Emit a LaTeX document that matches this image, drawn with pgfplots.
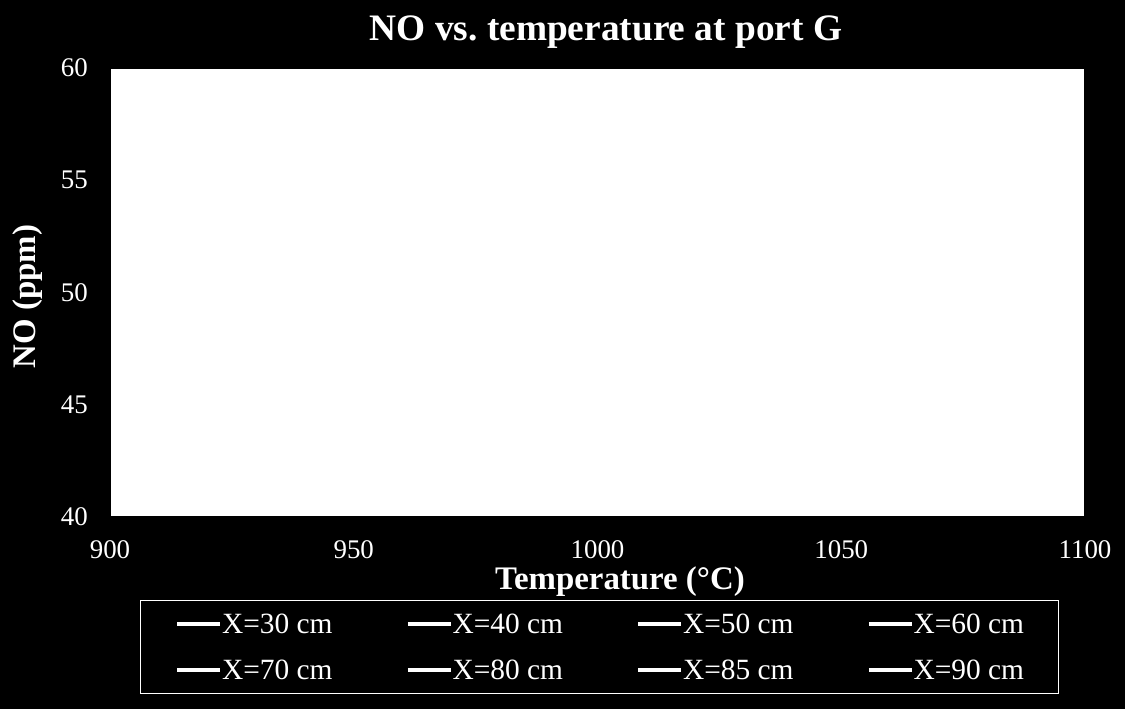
\documentclass[border=0pt]{standalone}
\usepackage{pgfplots}
\pgfplotsset{compat=1.18}
\usepackage{fontspec}
\setmainfont{Liberation Serif}
\usetikzlibrary{backgrounds}
\begin{document}
\begin{tikzpicture}
\begin{axis}[
  at={(0,0)}, anchor=south west,
  scale only axis, width=975bp, height=449bp,
  xmin=900, xmax=1100, ymin=40, ymax=60,
  xtick={900,950,1000,1050,1100},
  ytick={40,45,50,55,60},
  axis background/.style={fill=white},
  axis line style={black, line width=1.5bp},
  major tick length=0pt,
  /pgf/number format/assume math mode=true,
  /pgf/number format/1000 sep={},
  tick label style={font=\fontsize{27}{27}\selectfont, text=white, inner sep=0pt},
  xticklabel style={anchor=center, yshift=-33bp},
  yticklabel style={anchor=east, xshift=-22bp},
  title={NO vs.\ temperature at port G},
  title style={font=\bfseries\fontsize{37.5}{37.5}\selectfont, text=white,
    at={(axis description cs:0.5087,1.067)}, anchor=center, inner sep=0pt},
  xlabel={Temperature (°C)},
  xlabel style={font=\bfseries\fontsize{33}{33}\selectfont, text=white,
    at={(axis description cs:0.523,-0.143)}, anchor=center, inner sep=0pt},
  ylabel={NO (ppm)},
  ylabel style={font=\bfseries\fontsize{33}{33}\selectfont, text=white,
    at={(axis description cs:-0.0841,0.491)}, anchor=center, rotate=0, inner sep=0pt},
  legend columns=4,
  legend style={at={(axis description cs:0.0308,-0.1849)}, anchor=north west,
    draw=white, line width=1bp, fill=black, text=white,
    font=\fontsize{29.5}{29.5}\selectfont,
    inner xsep=35bp, inner ysep=13bp, row sep=25bp,
    nodes={inner sep=0pt},
    /tikz/every odd column/.append style={column sep=0bp},
    /tikz/every even column/.append style={column sep=0bp}},
  legend image code/.code={
    \draw[#1] plot coordinates {(0bp,0bp)(21.5bp,0bp)(43bp,0bp)};},
]
\addlegendimage{white, line width=3.5bp, mark=-, mark size=4bp, mark repeat=2, mark phase=2, mark options={line width=4.5bp}}
\addlegendentry{\makebox[184bp][l]{X=30 cm}}
\addlegendimage{white, line width=3.5bp, mark=-, mark size=4bp, mark repeat=2, mark phase=2, mark options={line width=4.5bp}}
\addlegendentry{\makebox[184bp][l]{X=40 cm}}
\addlegendimage{white, line width=3.5bp, mark=|, mark size=1.5bp, mark repeat=2, mark phase=2, mark options={line width=0.8bp}}
\addlegendentry{\makebox[184bp][l]{X=50 cm}}
\addlegendimage{white, line width=3.5bp, mark=-, mark size=4bp, mark repeat=2, mark phase=2, mark options={line width=4.5bp}}
\addlegendentry{X=60 cm}
\addlegendimage{white, line width=3.5bp}
\addlegendentry{\makebox[184bp][l]{X=70 cm}}
\addlegendimage{white, line width=3.5bp}
\addlegendentry{\makebox[184bp][l]{X=80 cm}}
\addlegendimage{white, line width=3.5bp, mark=|, mark size=1.5bp, mark repeat=2, mark phase=2, mark options={line width=0.8bp}}
\addlegendentry{\makebox[184bp][l]{X=85 cm}}
\addlegendimage{white, line width=3.5bp, mark=-, mark size=4bp, mark repeat=2, mark phase=2, mark options={line width=4.5bp}}
\addlegendentry{X=90 cm}
\end{axis}
\begin{scope}[on background layer]
  \fill[black] (-110bp,-192bp) rectangle (1015bp,517bp);
\end{scope}
\end{tikzpicture}
\end{document}
